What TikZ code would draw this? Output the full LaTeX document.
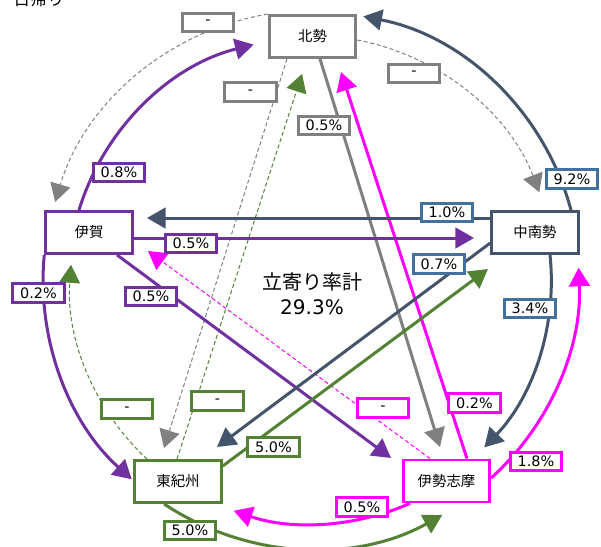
\documentclass[tikz,border=0pt]{standalone}
\usepackage{fontspec}
\setmainfont{DejaVu Sans}
\newfontfamily\jpfont{Noto Sans CJK JP}
\usetikzlibrary{arrows.meta}
\pgfdeclarelayer{bg}
\pgfsetlayers{bg,main}
\definecolor{cgray}{HTML}{808080}
\definecolor{cpur}{HTML}{7030A0}
\definecolor{cnavy}{HTML}{44546A}
\definecolor{cblue}{HTML}{41719C}
\definecolor{cgreen}{HTML}{548235}
\definecolor{cmag}{HTML}{FF00FF}
\tikzset{
  box/.style={draw, line width=2.1pt, fill=white, minimum width=65pt, minimum height=31.5pt, inner sep=0pt, font=\jpfont\fontsize{10.8pt}{13pt}\selectfont},
  lbl/.style={draw, line width=2.2pt, fill=white, minimum width=38.5pt, minimum height=14pt, inner sep=0pt, font=\fontsize{10.8pt}{12pt}\selectfont},
  flow/.style={line width=2.25pt, -{Triangle[length=14pt,width=15.5pt]}},
  weak/.style={line width=0.75pt, dash pattern=on 3pt off 2pt, -{Triangle[length=13.5pt,width=15.5pt]}},
}
\begin{document}
\begin{tikzpicture}[x=0.75pt,y=-0.75pt]
\useasboundingbox (0,0) rectangle (601,547);
\node[font=\jpfont\fontsize{12.75pt}{14pt}\selectfont] (title) at (39,-1) {日帰り};
% regions
\node[box, draw=cgray]  (hoku) at (312.5,36.5) {北勢};
\node[box, draw=cpur]   (iga)  at (89,232.5) {伊賀};
\node[box, draw=cnavy]  (chu)  at (535,232.5) {中南勢};
\node[box, draw=cgreen] (toki) at (178,481.5) {東紀州};
\node[box, draw=cmag]   (ise)  at (446.5,481) {伊勢志摩};
\node[align=center, font=\fontsize{15pt}{18.75pt}\selectfont] (total) at (312,293.5) {{\jpfont 立寄り率計}\\29.3\%};
% tips of straight connectors
\coordinate (tK) at (440,447);
\coordinate (tL) at (341,72);
\coordinate (tM) at (164,448);
\coordinate (tN) at (302,74);
\coordinate (tO) at (474,238);
\coordinate (tP) at (147,218);
\coordinate (tQ) at (391,458);
\coordinate (tR) at (148,251);
\coordinate (tS) at (217,447);
\coordinate (tT) at (488,269);
\begin{pgfonlayer}{bg}
% outer arcs
\draw[weak, draw=cgray] (hoku.north west) arc[start angle=260.5, end angle=196.6, radius=268];
\draw[flow, draw=cnavy] (chu.north -| 571,0) arc[start angle=345, end angle=281, radius=268];
\draw[flow, draw=cpur] (iga.south west) arc[start angle=185.4, end angle=132, radius=268];
\draw[flow, draw=cgreen] (toki.south -| 164,0) arc[start angle=123.6, end angle=61, radius=268];
\draw[flow, draw=cmag] (ise.east |- 0,478) arc[start angle=47.7, end angle=-2.6, radius=268];
% inner arcs
\draw[flow, draw=cpur] (iga.north -| 79,0) arc[start angle=197, end angle=256.1, radius=244];
\draw[weak, draw=cgray] (hoku.east |- 0,40) arc[start angle=280.8, end angle=339, radius=244];
\draw[flow, draw=cnavy] (chu.south -| 550,0) arc[start angle=-6, end angle=43.7, radius=242];
\draw[flow, draw=cmag] (ise.south -| 410,0) arc[start angle=66.4, end angle=108.8, radius=244];
\draw[weak, draw=cgreen] (toki.north -| 147,0) arc[start angle=133, end angle=184.3, radius=241];
% straight connectors
\draw[flow, draw=cgray] (hoku.south -| 320,0) -- (tK);
\draw[flow, draw=cmag] (ise.north -| 467,0) -- (tL);
\draw[weak, draw=cgray] (hoku.south -| 287,0) -- (tM);
\draw[weak, draw=cgreen] (toki.north -| 177,0) -- (tN);
\draw[flow, draw=cpur] (iga.east |- 0,238) -- (tO);
\draw[flow, draw=cnavy] (chu.west |- 0,218) -- (tP);
\draw[flow, draw=cpur] (iga.south -| 117,0) -- (tQ);
\draw[weak, draw=cmag] (ise.north -| 430,0) -- (tR);
\draw[flow, draw=cnavy] (chu.west |- 0,243) -- (tS);
\draw[flow, draw=cgreen] (toki.east |- 0,466) -- (tT);
\end{pgfonlayer}
% labels
\node[lbl, draw=cgray]  (l1)  at (208,22.5) {-};
\node[lbl, draw=cgray]  (l2)  at (250.5,92) {-};
\node[lbl, draw=cpur]   (l3)  at (119,172.5) {0.8\%};
\node[lbl, draw=cgray]  (l4)  at (324,125.5) {0.5\%};
\node[lbl, draw=cgray]  (l5)  at (414,73.5) {-};
\node[lbl, draw=cblue]  (l6)  at (572,179) {9.2\%};
\node[lbl, draw=cblue]  (l7)  at (447,212.5) {1.0\%};
\node[lbl, draw=cpur]   (l8)  at (191,243.5) {0.5\%};
\node[lbl, draw=cblue]  (l9)  at (439,264) {0.7\%};
\node[lbl, draw=cpur]   (l10) at (38.5,293) {0.2\%};
\node[lbl, draw=cpur]   (l11) at (151,296.5) {0.5\%};
\node[lbl, draw=cblue]  (l12) at (530,308.5) {3.4\%};
\node[lbl, draw=cgreen] (l13) at (127,409) {-};
\node[lbl, draw=cgreen] (l14) at (217.5,401) {-};
\node[lbl, draw=cgreen] (l15) at (273.5,447) {5.0\%};
\node[lbl, draw=cgreen] (l16) at (190,530.5) {5.0\%};
\node[lbl, draw=cmag]   (l17) at (383,408) {-};
\node[lbl, draw=cmag]   (l18) at (474.5,403) {0.2\%};
\node[lbl, draw=cmag]   (l19) at (536,461.5) {1.8\%};
\node[lbl, draw=cmag]   (l20) at (362,507) {0.5\%};
\end{tikzpicture}
\end{document}
